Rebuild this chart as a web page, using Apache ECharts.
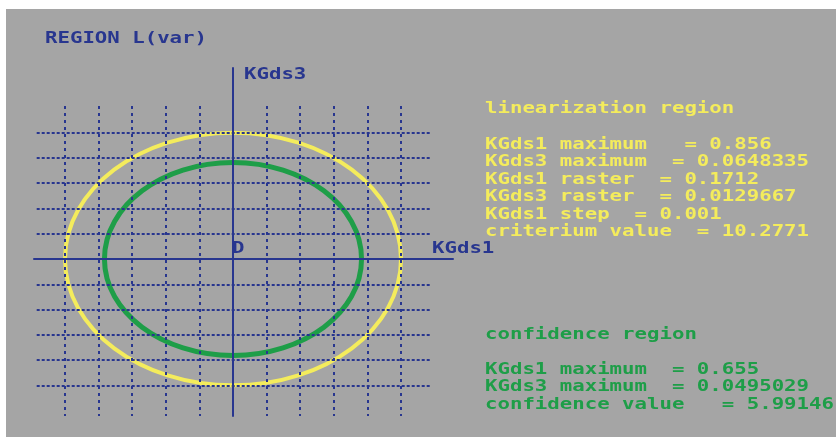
<!DOCTYPE html>
<html>
<head>
<meta charset="utf-8">
<script src="https://cdn.jsdelivr.net/npm/echarts@6/dist/echarts.min.js"></script>
<style>
  html, body { margin: 0; padding: 0; background: #ffffff; }
  #chart { width: 836px; height: 438px; }
</style>
</head>
<body>
<div id="chart"></div>
<script>
// ---- region values (KGds1, KGds3) ----
const linearMax = [0.856, 0.0648335];
const confidenceMax = [0.655, 0.0495029];
const raster = [0.1712, 0.0129667];
const kgds1Step = 0.001;
const criteriumValue = 10.2771;
const confidenceValue = 5.99146;

// raster lines (multiples of the raster on each side of the origin)
const xRasterValues = [-0.856, -0.6848, -0.5136, -0.3424, -0.1712, 0.1712, 0.3424, 0.5136, 0.6848, 0.856];
const yRasterValues = [-0.0648335, -0.0518668, -0.0389001, -0.0259334, -0.0129667,
                        0.0129667, 0.0259334, 0.0389001, 0.0518668, 0.0648335];

// axis / label texts
const titleText = 'REGION L(var)';
const xAxisName = 'KGds1';
const yAxisName = 'KGds3';
const originText = 'D';

const linearTitle = 'linearization region';
const linearLines = [
  'KGds1 maximum   = ' + linearMax[0],
  'KGds3 maximum  = ' + linearMax[1],
  'KGds1 raster  = ' + raster[0],
  'KGds3 raster  = ' + raster[1],
  'KGds1 step  = ' + kgds1Step,
  'criterium value  = ' + criteriumValue
];
const confidenceTitle = 'confidence region';
const confidenceLines = [
  'KGds1 maximum  = ' + confidenceMax[0],
  'KGds3 maximum  = ' + confidenceMax[1],
  'confidence value   = ' + confidenceValue
];

// ---- layout ----
const BG = '#a5a5a5';
const BLUE = '#28368f';
const YELLOW = '#f4ec5c';
const GREEN = '#1e9e48';
const FONT = 'bold 15px "DejaVu Sans Mono", "Liberation Mono", monospace';
const STRETCH = 1.38;

// pixel position of the origin and pixels per unit along each axis
const O = { x: 233, y: 259, sx: 196.26, sy: 1948 };

function xRange(left, right) { return [(left - O.x) / O.sx, (right - O.x) / O.sx]; }
function yRange(top, bottom) { return [(O.y - bottom) / O.sy, (O.y - top) / O.sy]; }

// axes frame (solid axis lines)
const frame = { left: 34, right: 453, top: 68, bottom: 416 };
// raster frame (dotted lines)
const rasterBox = { left: 36.7, right: 431.7, top: 106, bottom: 416 };

const fx = xRange(frame.left, frame.right), fy = yRange(frame.top, frame.bottom);
const rx = xRange(rasterBox.left, rasterBox.right), ry = yRange(rasterBox.top, rasterBox.bottom);

function gridOf(b) {
  return { left: b.left, top: b.top, width: b.right - b.left, height: b.bottom - b.top, containLabel: false, show: false };
}

function text(str, x, y, color) {
  return {
    type: 'text', x: x, y: y, scaleX: STRETCH, z: 100,
    style: { text: str, x: 0, y: 0, font: FONT, fill: color, verticalAlign: 'top', textVerticalAlign: 'top' }
  };
}

const graphics = [
  { type: 'rect', z: -100, shape: { x: 6, y: 9, width: 830, height: 428 }, style: { fill: BG } },
  text(titleText, 45, 32, BLUE),
  text(yAxisName, 244, 68, BLUE),
  text(originText, 232, 242, BLUE),
  text(xAxisName, 432, 242, BLUE),
  text(linearTitle, 485, 102, YELLOW),
  text(confidenceTitle, 485, 328, GREEN)
];
linearLines.forEach((s, i) => graphics.push(text(s, 485, 137.3 + i * 17.5, YELLOW)));
confidenceLines.forEach((s, i) => graphics.push(text(s, 485, 362.3 + i * 17.5, GREEN)));

function ellipseSeries(values, color, width) {
  return {
    type: 'custom',
    xAxisIndex: 0, yAxisIndex: 0,
    z: -1,
    silent: true,
    clip: false,
    data: [[0, 0, values[0], values[1]]],
    renderItem: function (params, api) {
      const c = api.coord([api.value(0), api.value(1)]);
      const e = api.coord([api.value(0) + api.value(2), api.value(1) + api.value(3)]);
      return {
        type: 'ellipse',
        shape: { cx: c[0], cy: c[1], rx: Math.abs(e[0] - c[0]), ry: Math.abs(c[1] - e[1]) },
        style: { fill: 'none', stroke: color, lineWidth: width }
      };
    }
  };
}

const chart = echarts.init(document.getElementById('chart'), null, { renderer: 'canvas' });
chart.setOption({
  animation: false,
  backgroundColor: 'transparent',
  grid: [gridOf(frame), gridOf(rasterBox)],
  xAxis: [
    {
      type: 'value', gridIndex: 0, min: fx[0], max: fx[1],
      axisLine: { show: true, onZero: true, lineStyle: { color: BLUE, width: 2 } },
      axisTick: { show: false }, axisLabel: { show: false }, splitLine: { show: false }
    },
    {
      type: 'value', gridIndex: 1, min: rx[0], max: rx[1],
      axisLine: { show: false },
      axisTick: { show: false, customValues: xRasterValues },
      axisLabel: { show: false, customValues: xRasterValues },
      splitLine: { show: true, lineStyle: { color: BLUE, width: 2, type: [3, 4] } }
    }
  ],
  yAxis: [
    {
      type: 'value', gridIndex: 0, min: fy[0], max: fy[1],
      axisLine: { show: true, onZero: true, lineStyle: { color: BLUE, width: 2 } },
      axisTick: { show: false }, axisLabel: { show: false }, splitLine: { show: false }
    },
    {
      type: 'value', gridIndex: 1, min: ry[0], max: ry[1],
      axisLine: { show: false },
      axisTick: { show: false, customValues: yRasterValues },
      axisLabel: { show: false, customValues: yRasterValues },
      splitLine: { show: true, lineStyle: { color: BLUE, width: 2, type: [3, 2] } }
    }
  ],
  series: [
    ellipseSeries(linearMax, YELLOW, 4),
    ellipseSeries(confidenceMax, GREEN, 5)
  ],
  graphic: graphics
});
</script>
</body>
</html>
